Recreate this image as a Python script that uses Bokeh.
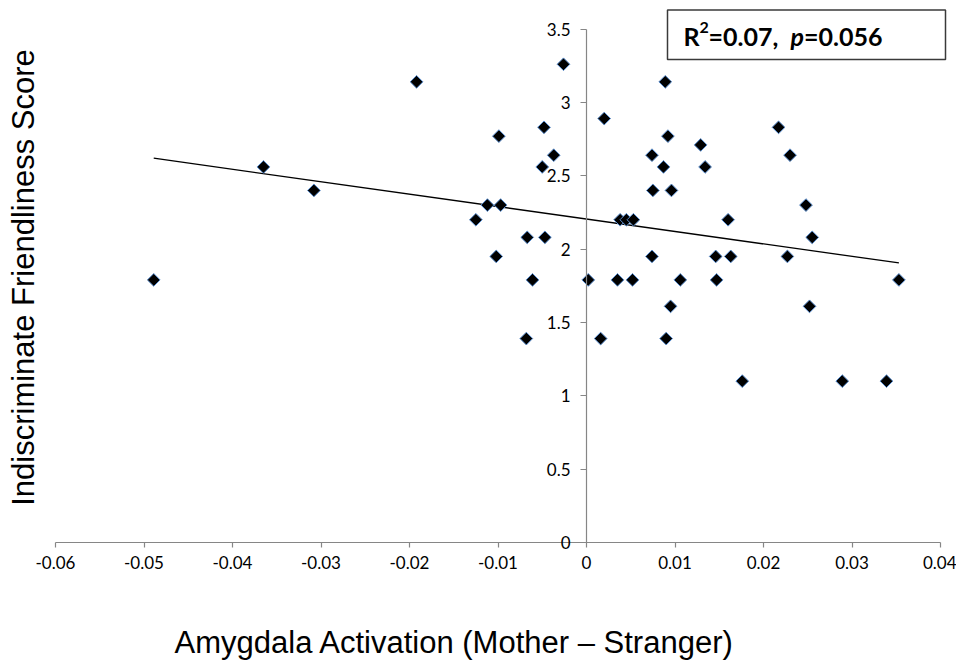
import numpy as np
from bokeh.plotting import figure
from bokeh.models import (LinearAxis, FixedTicker, Label, BoxAnnotation, ColumnDataSource, Range1d)
from bokeh.embed import file_html
from bokeh.resources import INLINE

# ---- data ----
activation = [
    -0.0489, -0.0365, -0.0308, -0.0192, -0.0125, -0.0112, -0.0097, -0.0099,
    -0.0102, -0.0067, -0.0047, -0.0061, -0.0068, -0.0050, -0.0048, -0.0037,
    -0.0026, 0.0002, 0.0016, 0.0020, 0.0035, 0.0052, 0.0038, 0.0045, 0.0053,
    0.0074, 0.0075, 0.0074, 0.0089, 0.0092, 0.0087, 0.0096, 0.0095, 0.0090,
    0.0106, 0.0129, 0.0134, 0.0160, 0.0146, 0.0163, 0.0147, 0.0176,
    0.0217, 0.0230, 0.0248, 0.0255, 0.0227, 0.0252, 0.0289, 0.0339, 0.0353,
]
friendliness = [
    1.79, 2.56, 2.40, 3.14, 2.20, 2.30, 2.30, 2.77,
    1.95, 2.08, 2.08, 1.79, 1.39, 2.56, 2.83, 2.64,
    3.26, 1.79, 1.39, 2.89, 1.79, 1.79, 2.20, 2.20, 2.20,
    2.64, 2.40, 1.95, 3.14, 2.77, 2.56, 2.40, 1.61, 1.39,
    1.79, 2.71, 2.56, 2.20, 1.95, 1.95, 1.79, 1.10,
    2.83, 2.64, 2.30, 2.08, 1.95, 1.61, 1.10, 1.10, 1.79,
]
trend_slope = -8.48
trend_intercept = 2.205

x_ticks = [-0.06, -0.05, -0.04, -0.03, -0.02, -0.01, 0, 0.01, 0.02, 0.03, 0.04]
x_tick_labels = ["-0.06", "-0.05", "-0.04", "-0.03", "-0.02", "-0.01", "0", "0.01", "0.02", "0.03", "0.04"]
y_ticks = [0, 0.5, 1, 1.5, 2, 2.5, 3, 3.5]
y_tick_labels = ["0", "0.5", "1", "1.5", "2", "2.5", "3", "3.5"]

stat_r = "R"
stat_sup = "2"
stat_r_val = "=0.07,"
stat_p = "p"
stat_p_val = "=0.056"
x_title = "Amygdala Activation (Mother \u2013 Stranger)"
y_title = "Indiscriminate Friendliness Score"

# ---- layout (pixels) ----
W, H = 956, 660
X0_PX, PX_PER_X = 55, 8850.0      # where x=-0.06 sits, pixels per unit x
Y0_PX, PX_PER_Y = 542, 146.7      # where y=0 sits, pixels per unit y
x_start = x_ticks[0] - X0_PX / PX_PER_X
x_end = x_start + W / PX_PER_X
y_start = -(H - Y0_PX) / PX_PER_Y
y_end = Y0_PX / PX_PER_Y

AXIS_GREY = "#868686"
TICK_FONT = "Lato"
TICK_SIZE = "17px"

p = figure(width=W, height=H, output_backend="svg", toolbar_location=None,
           x_range=Range1d(x_start, x_end), y_range=Range1d(y_start, y_end),
           x_axis_location=None, y_axis_location=None,
           min_border=0, min_border_left=0, min_border_right=0,
           min_border_top=0, min_border_bottom=0)
p.grid.visible = False
p.outline_line_color = None
p.background_fill_color = "white"
p.border_fill_color = "white"


def style_axis(ax):
    ax.minor_tick_line_color = None
    ax.axis_line_color = AXIS_GREY
    ax.axis_line_width = 1.2
    ax.major_tick_line_color = AXIS_GREY
    ax.major_tick_line_width = 1.2
    ax.major_tick_in = 0
    ax.major_label_text_font = TICK_FONT
    ax.major_label_text_font_size = TICK_SIZE
    ax.major_label_text_color = "black"


xa = LinearAxis(fixed_location=0, ticker=FixedTicker(ticks=x_ticks),
                bounds=(x_ticks[0], x_ticks[-1]))
xa.major_label_overrides = {t: l for t, l in zip(x_ticks, x_tick_labels)}
style_axis(xa)
xa.major_tick_out = 5
xa.major_label_standoff = 8
p.add_layout(xa, "below")

ya = LinearAxis(fixed_location=0, ticker=FixedTicker(ticks=y_ticks),
                bounds=(y_ticks[0], y_ticks[-1]))
ya.major_label_overrides = {t: l for t, l in zip(y_ticks, y_tick_labels)}
style_axis(ya)
ya.major_tick_out = 6
ya.major_label_standoff = 10
p.add_layout(ya, "left")

# trend line over the data range
xs = np.array([min(activation), max(activation)])
p.line(xs, trend_intercept + trend_slope * xs, line_color="black", line_width=1.3)

src = ColumnDataSource(dict(x=activation, y=friendliness))
p.scatter("x", "y", source=src, marker="square", size=9, angle=np.pi / 4,
          fill_color="black", line_color="#5b8fd0", line_width=1)

# statistics box (canvas units: from the top-left corner)
p.add_layout(BoxAnnotation(left=667, right=945, top=9.5, bottom=59,
                           left_units="canvas", right_units="canvas",
                           top_units="canvas", bottom_units="canvas",
                           fill_color="white", fill_alpha=1,
                           line_color="#3a3a3a", line_alpha=1, line_width=1.5,
                           level="overlay"))
common = dict(x_units="canvas", y_units="canvas", text_font="Lato",
              text_color="black", text_baseline="alphabetic", level="overlay")
p.add_layout(Label(x=683, y=35, text=stat_r, text_font_style="bold", text_font_size="25px", **common))
p.add_layout(Label(x=699, y=27, text=stat_sup, text_font_style="bold", text_font_size="16px", **common))
p.add_layout(Label(x=708, y=35, text=stat_r_val, text_font_style="bold", text_font_size="25px", **common))
p.add_layout(Label(x=790, y=35, text=stat_p, text_font_style="bold italic", text_font_size="25px", **common))
p.add_layout(Label(x=882, y=35, text=stat_p_val, text_font_style="bold", text_font_size="25px",
                   text_align="right", **common))

# axis titles
p.add_layout(Label(x=454, y=642, text=x_title, x_units="canvas", y_units="canvas",
                   text_font="Liberation Sans", text_font_size="31px",
                   text_align="center", text_baseline="alphabetic", text_color="black"))
p.add_layout(Label(x=23, y=277, text=y_title, x_units="canvas", y_units="canvas",
                   angle=np.pi / 2,
                   text_font="Liberation Sans", text_font_size="31px",
                   text_align="center", text_baseline="alphabetic", text_color="black"))

open("out.html", "w").write(file_html(p, INLINE))
